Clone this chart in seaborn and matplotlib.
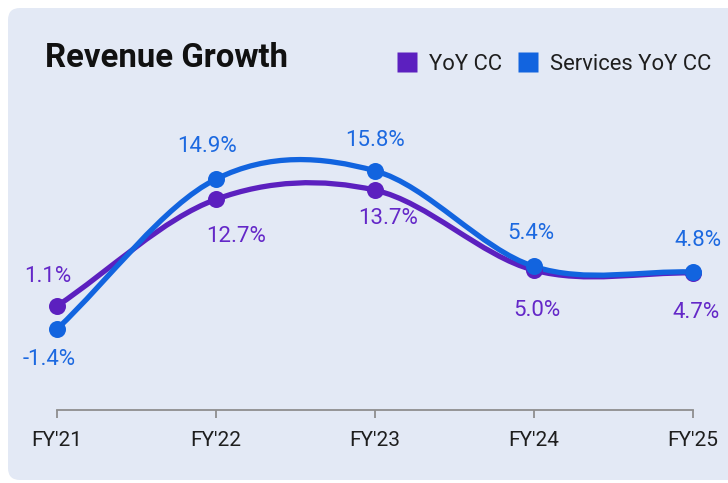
import numpy as np
import pandas as pd
import matplotlib
matplotlib.use("Agg")
import matplotlib.pyplot as plt
import seaborn as sns
from matplotlib.path import Path
from matplotlib.patches import PathPatch, FancyBboxPatch
from matplotlib.lines import Line2D
from matplotlib.transforms import IdentityTransform

# data
years = ["FY'21", "FY'22", "FY'23", "FY'24", "FY'25"]
yoy_cc = [1.1, 12.7, 13.7, 5.0, 4.7]
services_yoy_cc = [-1.4, 14.9, 15.8, 5.4, 4.8]

PURPLE = "#5C20BF"
PURPLE_TXT = "#6428C8"
BLUE = "#1264DF"
BLUE_TXT = "#1C69E0"
PANEL = "#E3E9F5"

sns.set_theme(style="white")
plt.rcParams["font.family"] = ["Roboto", "DejaVu Sans"]

fig = plt.figure(figsize=(7.28, 4.83), dpi=100)
fig.patch.set_facecolor("white")

# rounded background card (pixel coords)
card = FancyBboxPatch((8, 3), 760, 472, boxstyle="round,pad=0,rounding_size=12",
                      transform=IdentityTransform(), facecolor=PANEL,
                      edgecolor="none", zorder=-10)
fig.add_artist(card)

ax = fig.add_axes([57 / 728, (483 - 410) / 483, 636 / 728, 310 / 483])
ax.set_facecolor("none")

df = pd.DataFrame({"x": np.arange(len(years)), "year": years,
                   "YoY CC": yoy_cc, "Services YoY CC": services_yoy_cc})


def smooth_path(xs, ys):
    # catmull-rom tangents turned into cubic bezier segments
    xs = np.asarray(xs, float)
    ys = np.asarray(ys, float)
    n = len(ys)
    m = np.zeros(n)
    m[0] = ys[1] - ys[0]
    m[-1] = ys[-1] - ys[-2]
    for i in range(1, n - 1):
        m[i] = (ys[i + 1] - ys[i - 1]) / 2
    verts = [(xs[0], ys[0])]
    codes = [Path.MOVETO]
    for i in range(n - 1):
        h = xs[i + 1] - xs[i]
        verts += [(xs[i] + h / 3, ys[i] + m[i] * h / 3),
                  (xs[i + 1] - h / 3, ys[i + 1] - m[i + 1] * h / 3),
                  (xs[i + 1], ys[i + 1])]
        codes += [Path.CURVE4] * 3
    return Path(verts, codes)


series = [("YoY CC", PURPLE, PURPLE_TXT,
           [(-9, 30), (20, -37), (13, -28), (3, -40), (3, -40)]),
          ("Services YoY CC", BLUE, BLUE_TXT,
           [(-8, -30), (-9, 33), (0, 30), (-3, 33), (5, 32)])]

for name, col, tcol, offs in series:
    ax.add_patch(PathPatch(smooth_path(df["x"], df[name]), facecolor="none",
                           edgecolor=col, lw=3.8, capstyle="round",
                           clip_on=False, zorder=2))
    sns.scatterplot(data=df, x="x", y=name, color=col, s=150, linewidth=0,
                    ax=ax, clip_on=False, zorder=3, legend=False)
    for xi, yi, (dx, dy) in zip(df["x"], df[name], offs):
        ax.annotate(f"{yi:.1f}%", (xi, yi), xytext=(dx * 0.72, dy * 0.72),
                    textcoords="offset points", ha="center", va="center",
                    fontsize=16, color=tcol)

ax.set_xlim(0, len(years) - 1)
ax.set_ylim(-10.2, 23.5)
ax.set_xticks(df["x"])
ax.set_xticklabels(years)
ax.set_yticks([])
ax.set_xlabel("")
ax.set_ylabel("")
for s in ["top", "left", "right"]:
    ax.spines[s].set_visible(False)
ax.spines["bottom"].set_color("#8E8E8E")
ax.spines["bottom"].set_linewidth(1.3)
ax.tick_params(axis="x", bottom=True, direction="out", length=6, width=1.3,
               color="#8E8E8E", pad=9, labelsize=15, labelcolor="#1E1E1E")

fig.text(45 / 728, 1 - 58 / 483, "Revenue Growth", ha="left", va="center",
         fontsize=23.7, fontweight="bold", color="#111111")

handles = [Line2D([], [], marker="s", linestyle="", markersize=14.5,
                  markerfacecolor=PURPLE, markeredgecolor="none", label="YoY CC"),
           Line2D([], [], marker="s", linestyle="", markersize=14.5,
                  markerfacecolor=BLUE, markeredgecolor="none",
                  label="Services YoY CC")]
fig.legend(handles=handles, loc="center left",
           bbox_to_anchor=(397 / 728, 1 - 64 / 483), ncol=2, frameon=False,
           handlelength=0.9, handletextpad=0.55, columnspacing=0.75,
           borderaxespad=0, borderpad=0, fontsize=15.8, labelcolor="#1E1E1E")

fig.savefig("out.png", dpi=100)
